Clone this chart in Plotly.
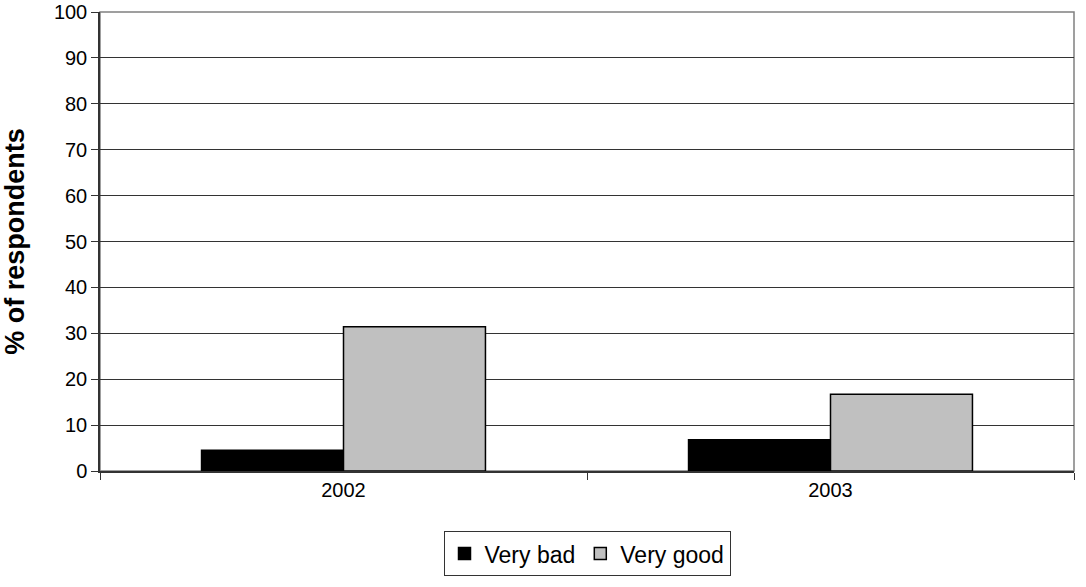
import plotly.graph_objects as go

years = ["2002", "2003"]
very_bad = [4.5, 6.8]
very_good = [31.4, 16.7]
y_ticks = [0, 10, 20, 30, 40, 50, 60, 70, 80, 90, 100]

font = "Liberation Sans, Arial, sans-serif"

fig = go.Figure()
fig.add_trace(go.Bar(name="Very bad", x=years, y=very_bad,
                     marker=dict(color="#000000", line=dict(color="#000000", width=1.5))))
fig.add_trace(go.Bar(name="Very good", x=years, y=very_good,
                     marker=dict(color="#C0C0C0", line=dict(color="#000000", width=1.5))))

fig.update_layout(
    width=1086, height=587,
    margin=dict(l=100, r=12, t=12, b=116, autoexpand=False),
    paper_bgcolor="white", plot_bgcolor="white",
    barmode="group", bargap=0.417, bargroupgap=0,
    font=dict(family=font, size=20, color="black"),
    showlegend=True,
    legend=dict(orientation="h", x=0.5, xanchor="center", y=-0.131, yanchor="top",
                bordercolor="#333333", borderwidth=1, font=dict(size=23),
                itemwidth=30, traceorder="normal", tracegroupgap=0),
    xaxis=dict(showline=True, linecolor="#333333", linewidth=1.5, automargin=False,
               ticks="outside", tickson="boundaries", ticklen=7, tickcolor="#333333",
               showgrid=False, tickfont=dict(size=20)),
    yaxis=dict(range=[0, 100], tickvals=y_ticks, showline=True, linecolor="#333333",
               linewidth=1.5, ticks="outside", ticklen=7, tickcolor="#333333",
               showgrid=True, gridcolor="#333333", gridwidth=1, automargin=False,
               ticklabeloverflow="allow",
               zeroline=False, tickfont=dict(size=20),
               title=dict(text="<b>% of respondents</b>", font=dict(size=27), standoff=34)),
    shapes=[dict(type="rect", xref="paper", yref="paper", x0=0, x1=1, y0=0, y1=1,
                 line=dict(color="#808080", width=1.5), layer="below")],
)

fig.write_html("out.html", config={"displayModeBar": False},
               post_script="document.body.style.margin='0px';")
